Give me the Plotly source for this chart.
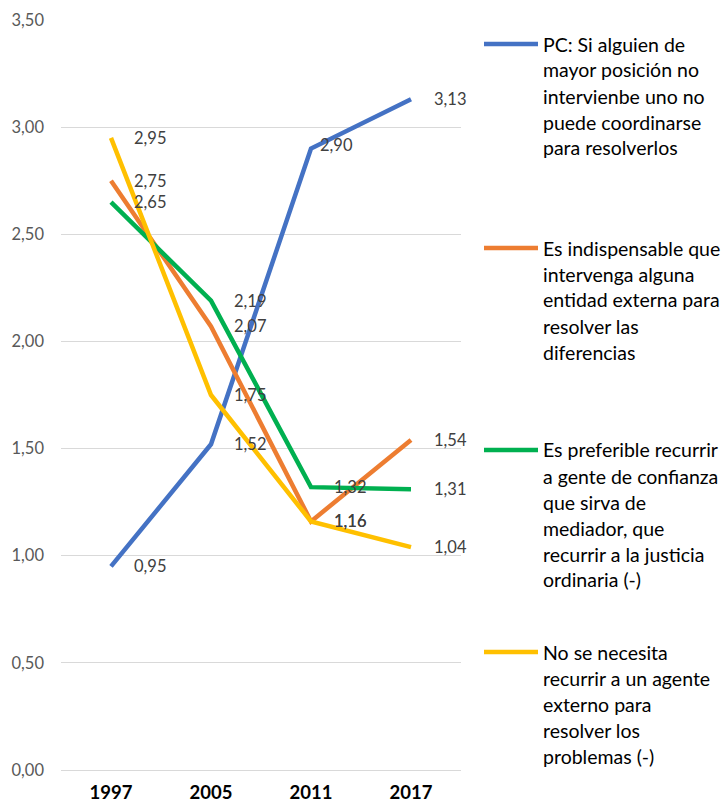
import plotly.graph_objects as go

years = ["1997", "2005", "2011", "2017"]
blue_vals = [0.95, 1.52, 2.90, 3.13]
orange_vals = [2.75, 2.07, 1.16, 1.54]
green_vals = [2.65, 2.19, 1.32, 1.31]
yellow_vals = [2.95, 1.75, 1.16, 1.04]

series_names = [
    ["PC: Si alguien de", "mayor posición no", "intervienbe uno no", "puede coordinarse", "para resolverlos"],
    ["Es indispensable que", "intervenga alguna", "entidad externa para", "resolver las", "diferencias"],
    ["Es preferible recurrir", "a gente de confianza", "que sirva de", "mediador, que", "recurrir a la justicia", "ordinaria (-)"],
    ["No se necesita", "recurrir a un agente", "externo para", "resolver los", "problemas (-)"],
]
series_values = [blue_vals, orange_vals, green_vals, yellow_vals]
colors = ["#4472C4", "#ED7D31", "#00B050", "#FFC000"]
y_ticks = [0, 0.5, 1.0, 1.5, 2.0, 2.5, 3.0, 3.5]

W, H = 728, 807
L, R, T, B = 61, 267, 20, 37
PW, PH = W - L - R, H - T - B
FONT = "Lato, sans-serif"

fig = go.Figure()
for name, vals, col in zip(series_names, series_values, colors):
    fig.add_trace(go.Scatter(
        x=list(range(len(years))), y=vals, mode="lines", name=" ".join(name),
        line=dict(color=col, width=4.5, shape="linear"),
        showlegend=False, hoverinfo="y",
    ))

# label nudges (series index, point index) -> (xshift, yshift) in px
label_shift = {(0, 2): (7, 4)}

annotations = []
for s, vals in enumerate(series_values):
    for i, v in enumerate(vals):
        xs, ys = label_shift.get((s, i), (21, 0))
        annotations.append(dict(
            x=i, y=v, xref="x", yref="y", text=f"{v:.2f}".replace(".", ","),
            showarrow=False, xanchor="left", yanchor="middle", xshift=xs, yshift=ys,
            font=dict(family=FONT, size=16.5, color="#404040"),
        ))

shapes = []
legend_first_y = [44, 248, 450, 652]
line_gap = 26
for lines, col, y0 in zip(series_names, colors, legend_first_y):
    py = (H - B - y0) / PH
    shapes.append(dict(type="line", xref="paper", yref="paper",
                       x0=(484 - L) / PW, x1=(538 - L) / PW, y0=py, y1=py,
                       line=dict(color=col, width=4.5)))
    for i, ln in enumerate(lines):
        annotations.append(dict(
            x=(543 - L) / PW, y=(H - B - (y0 + i * line_gap)) / PH,
            xref="paper", yref="paper", text=ln, showarrow=False,
            xanchor="left", yanchor="middle", xshift=-2,
            font=dict(family=FONT, size=19.5, color="#000000"),
        ))

fig.update_layout(
    width=W, height=H,
    margin=dict(l=L, r=R, t=T, b=B, pad=0, autoexpand=False),
    plot_bgcolor="white", paper_bgcolor="white",
    separators=", ",
    annotations=annotations, shapes=shapes,
    font=dict(family=FONT),
)
fig.update_xaxes(
    range=[-0.5, 3.5], tickvals=list(range(len(years))), ticktext=years,
    showgrid=False, showline=False, zeroline=False, ticks="", ticklabelstandoff=9,
    automargin=False,
    tickfont=dict(family=FONT, size=18.5, color="#000000", weight="bold"),
)
fig.update_yaxes(
    range=[0, 3.5], tickvals=y_ticks, tickformat=".2f",
    showgrid=True, gridcolor="#D9D9D9", gridwidth=1,
    zeroline=True, zerolinecolor="#D9D9D9", zerolinewidth=1,
    showline=False, ticks="", ticklabelstandoff=16, automargin=False,
    tickfont=dict(family=FONT, size=16.5, color="#595959"),
)

fig.write_html("out.html", config={"displayModeBar": False},
               post_script="document.body.style.margin='0';document.body.style.overflow='hidden';")
